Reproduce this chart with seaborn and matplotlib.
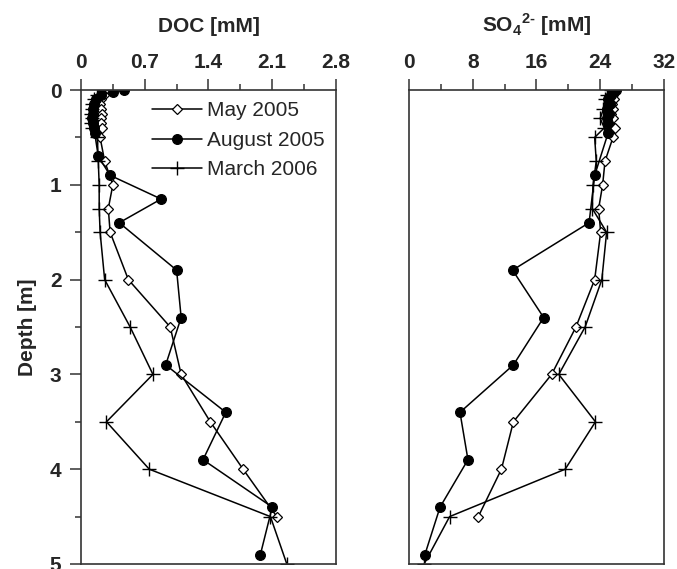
import matplotlib
matplotlib.use("Agg")
from matplotlib import pyplot as plt
from matplotlib.ticker import MultipleLocator, FuncFormatter
import seaborn as sns
import pandas as pd

sns.set_style("ticks")
plt.rcParams['font.family'] = ['Liberation Sans', 'DejaVu Sans']
plt.rcParams['mathtext.fontset'] = 'custom'
plt.rcParams['mathtext.rm'] = 'Liberation Sans'
plt.rcParams['mathtext.bf'] = 'Liberation Sans:bold'

# DOC profiles [mM]
may_depth = [0, 0.05, 0.1, 0.15, 0.2, 0.25, 0.3, 0.35, 0.4, 0.5, 0.75, 1.0, 1.25, 1.5, 2.0, 2.5, 3.0, 3.5, 4.0, 4.5]
may_doc = [0.30, 0.25, 0.22, 0.21, 0.22, 0.23, 0.22, 0.22, 0.23, 0.21, 0.26, 0.35, 0.30, 0.32, 0.52, 0.98, 1.10, 1.42, 1.78, 2.15]

aug_depth = [0, 0.02, 0.05, 0.1, 0.15, 0.2, 0.25, 0.3, 0.35, 0.4, 0.45, 0.7, 0.9, 1.15, 1.4, 1.9, 2.4, 2.9, 3.4, 3.9, 4.4, 4.9]
aug_doc = [0.47, 0.35, 0.22, 0.16, 0.14, 0.13, 0.13, 0.12, 0.13, 0.14, 0.15, 0.19, 0.32, 0.88, 0.42, 1.05, 1.10, 0.93, 1.59, 1.34, 2.10, 1.97]

mar_depth = [0, 0.05, 0.1, 0.15, 0.2, 0.25, 0.3, 0.35, 0.4, 0.5, 0.75, 1.0, 1.25, 1.5, 2.0, 2.5, 3.0, 3.5, 4.0, 4.5, 5.0]
mar_doc = [0.25, 0.18, 0.14, 0.12, 0.12, 0.11, 0.12, 0.11, 0.12, 0.18, 0.19, 0.20, 0.20, 0.21, 0.26, 0.54, 0.79, 0.28, 0.75, 2.08, 2.26]

# SO4 profiles [mM]
may_so4_depth = [0, 0.05, 0.1, 0.15, 0.2, 0.25, 0.3, 0.4, 0.5, 0.75, 1.0, 1.25, 1.5, 2.0, 2.5, 3.0, 3.5, 4.0, 4.5]
may_so4 = [25.8, 25.6, 25.7, 25.5, 25.6, 25.4, 25.6, 25.9, 25.6, 24.6, 24.3, 23.8, 24.05, 23.3, 20.95, 17.9, 13.1, 11.6, 8.7]

aug_so4_depth = [0, 0.02, 0.05, 0.1, 0.15, 0.2, 0.25, 0.3, 0.35, 0.45, 0.9, 1.4, 1.9, 2.4, 2.9, 3.4, 3.9, 4.4, 4.9]
aug_so4 = [26.0, 25.6, 25.3, 25.0, 25.2, 24.9, 25.1, 24.8, 25.0, 25.0, 23.3, 22.6, 13.0, 16.9, 13.1, 6.4, 7.4, 3.9, 2.0]

mar_so4_depth = [0, 0.05, 0.1, 0.2, 0.3, 0.4, 0.5, 0.75, 1.0, 1.25, 1.5, 2.0, 2.5, 3.0, 3.5, 4.0, 4.5, 5.0]
mar_so4 = [25.4, 24.8, 24.6, 24.4, 24.0, 24.5, 23.3, 23.5, 23.1, 23.0, 24.8, 24.2, 22.1, 18.8, 23.4, 19.6, 5.1, 1.9]

fig = plt.figure(figsize=(6.77, 5.69), dpi=100)
ax1 = fig.add_axes([0.1196, 0.0088, 0.3767, 0.8330])
ax2 = fig.add_axes([0.6041, 0.0088, 0.3767, 0.8330])

styles = [
    ('May 2005', dict(marker='D', ms=5.5, mfc='white', mec='k', mew=0.9)),
    ('August 2005', dict(marker='o', ms=7, mfc='k', mec='k', mew=0.9)),
    ('March 2006', dict(marker='+', ms=10, mfc='k', mec='k', mew=1.0)),
]
doc_data = [(may_doc, may_depth), (aug_doc, aug_depth), (mar_doc, mar_depth)]
so4_data = [(may_so4, may_so4_depth), (aug_so4, aug_so4_depth), (mar_so4, mar_so4_depth)]

for (lab, kw), (xv, yv) in zip(styles, doc_data):
    sns.lineplot(x=xv, y=yv, ax=ax1, sort=False, estimator=None, color='k',
                 lw=1.1, label=lab, **kw)
for (lab, kw), (xv, yv) in zip(styles, so4_data):
    sns.lineplot(x=xv, y=yv, ax=ax2, sort=False, estimator=None, color='k',
                 lw=1.1, **kw)

fmt = FuncFormatter(lambda v, p: '0' if abs(v) < 1e-9 else ('%g' % round(v, 2)))

for ax, xmax, step, minor in [(ax1, 2.8, 0.7, 0.35), (ax2, 32, 8, 4)]:
    ax.set_xlim(0, xmax)
    ax.set_ylim(5, 0)
    ax.xaxis.set_major_locator(MultipleLocator(step))
    ax.xaxis.set_minor_locator(MultipleLocator(minor))
    ax.xaxis.set_major_formatter(fmt)
    ax.xaxis.tick_top()
    ax.xaxis.set_label_position('top')
    ax.tick_params(axis='x', which='both', top=True, bottom=False, direction='out',
                   labelsize=15, pad=5, color='#333333')
    ax.tick_params(axis='x', which='major', length=8, width=1.1)
    ax.tick_params(axis='x', which='minor', length=4, width=1.1)
    for sp in ax.spines.values():
        sp.set_visible(True)
        sp.set_linewidth(1.2)
        sp.set_color('#333333')
    for t in ax.get_xticklabels():
        t.set_fontweight('bold')

ax1.yaxis.set_major_locator(MultipleLocator(1))
ax1.yaxis.set_minor_locator(MultipleLocator(0.5))
ax1.tick_params(axis='y', which='both', left=True, right=False, direction='out',
                labelsize=15, pad=6, color='#333333')
ax1.tick_params(axis='y', which='major', length=8, width=1.1)
ax1.tick_params(axis='y', which='minor', length=4, width=1.1)
for t in ax1.get_yticklabels():
    t.set_fontweight('bold')
ax1.set_ylabel('Depth [m]', fontsize=15, fontweight='bold', labelpad=9)
ax1.set_xlabel('DOC [mM]', fontsize=15, fontweight='bold', labelpad=15)

ax2.tick_params(axis='y', which='both', left=False, right=False, labelleft=False)
ax2.set_ylabel('')
ax2.set_xlabel('SO$_\\mathbf{4}$$^\\mathbf{2\u2010}$ [mM]', fontsize=15, fontweight='bold', labelpad=15)

ax1.legend(loc='upper right', bbox_to_anchor=(1.0, 1.0), frameon=False, fontsize=15,
           handlelength=2.4, handletextpad=0.25, labelspacing=0.5, borderaxespad=0.15)

fig.savefig('out.png', dpi=100)
